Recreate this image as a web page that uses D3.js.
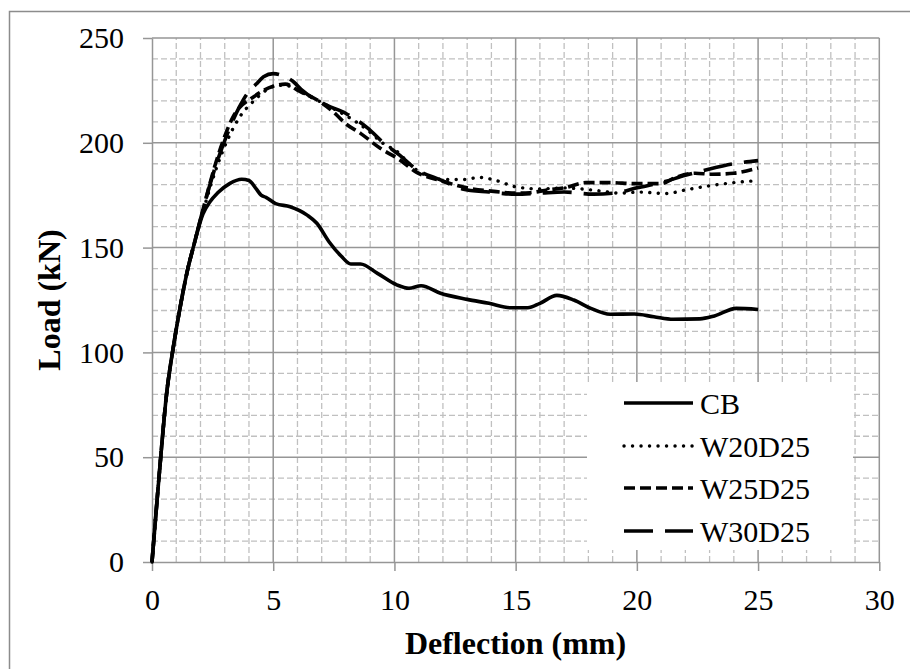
<!DOCTYPE html>
<html>
<head>
<meta charset="utf-8">
<script src="https://cdn.jsdelivr.net/npm/d3@7"></script>
<style>
  html, body { margin: 0; padding: 0; background: #fff; }
  svg { display: block; }
  text { font-family: "Liberation Serif", "Times New Roman", serif; fill: #000; }
</style>
</head>
<body>
<svg id="chart" width="910" height="669"></svg>
<script>
// Load–deflection curves of the control beam (CB) and three strengthened beams
const seriesNames = ["CB", "W20D25", "W25D25", "W30D25"];

const cbDefl = [0, 0.3, 0.6, 0.9, 1.2, 1.5, 1.7, 2.1, 2.4, 2.7, 3.2, 3.7, 4.0, 4.3, 4.5, 4.7, 5.1, 5.7, 6.4, 6.8, 7.3, 7.8, 8.2, 8.6, 9.3, 10.1, 10.6, 11.1, 11.9, 13.0, 13.9, 14.8, 15.5, 16.0, 16.7, 17.4, 18.1, 18.9, 19.9, 20.7, 21.5, 22.6, 23.2, 24.1, 25.0];
const cbLoad = [0, 42, 80, 104, 124, 141, 150, 166, 172, 176, 180.5, 182.6, 182, 178, 175, 174, 171, 169.5, 165.5, 161.6, 152.8, 146, 142.2, 142.2, 137.7, 132.2, 130.6, 131.8, 128.2, 125.3, 123.4, 121.3, 121.3, 123.4, 127.2, 125, 121, 118.2, 118.3, 117, 115.8, 116, 117.4, 121, 120.5];

const w20Defl = [0, 0.3, 0.6, 0.9, 1.2, 1.5, 1.7, 2.1, 2.6, 3.1, 3.6, 4.2, 4.7, 5.2, 5.7, 6.2, 7.2, 8.0, 8.9, 9.5, 10.2, 10.6, 11.2, 12.0, 12.9, 13.5, 14.2, 15.0, 16.0, 17.0, 17.7, 18.5, 19.3, 20.1, 21.2, 22.0, 23.0, 24.0, 25.0];
const w20Load = [0, 42, 80, 104, 124, 141, 150, 167, 186, 201, 212, 220, 225, 227.5, 227, 224, 218, 213, 206, 200, 195, 190, 185, 182.5, 182.5, 183.5, 182, 179, 178, 178.5, 178, 177, 176, 176.5, 175.8, 177.5, 179.5, 181, 182];

const w25Defl = [0, 0.3, 0.6, 0.9, 1.2, 1.5, 1.7, 2.1, 2.7, 3.35, 4.2, 5.0, 5.5, 6.1, 6.8, 7.5, 8.0, 8.6, 9.4, 10.2, 10.9, 11.9, 13.0, 14.2, 15.0, 15.6, 16.3, 17.0, 17.9, 18.9, 19.9, 21.0, 21.6, 22.4, 23.1, 24.0, 25.0];
const w25Load = [0, 42, 80, 104, 124, 141, 150, 168, 193, 212.5, 222, 227, 228, 224.5, 220.5, 214.5, 209, 204.5, 197.5, 192, 186, 182, 178.5, 176.7, 176, 176.2, 177.5, 178.5, 181, 181, 180.5, 180.5, 183.5, 185.5, 185, 185.5, 188];

const w30Defl = [0, 0.3, 0.6, 0.9, 1.2, 1.5, 1.7, 2.1, 2.6, 3.1, 3.6, 3.9, 4.3, 4.6, 5.0, 5.4, 5.8, 6.2, 7.2, 8.0, 8.9, 9.5, 10.2, 10.9, 11.9, 12.8, 13.9, 15.0, 16.0, 17.0, 18.2, 19.2, 20.0, 21.0, 22.0, 23.0, 24.0, 25.0];
const w30Load = [0, 42, 80, 104, 124, 141, 150, 168, 188, 204, 217, 223, 228, 231.5, 233, 232, 229.5, 225, 218, 214, 207, 200.5, 194.2, 187.4, 182.3, 178, 176.5, 175.5, 176, 176.5, 175.5, 176.2, 178.5, 181, 184.5, 187.5, 190, 191.5];

const xTicks = [0, 5, 10, 15, 20, 25, 30];
const yTicks = [0, 50, 100, 150, 200, 250];
const xTitle = "Deflection (mm)";
const yTitle = "Load (kN)";

const series = [
  { name: seriesNames[0], x: cbDefl,  y: cbLoad,  dash: null,        width: 3.6, cap: "butt" },
  { name: seriesNames[1], x: w20Defl, y: w20Load, dash: "0.1,8.4",   width: 3.4, cap: "round" },
  { name: seriesNames[2], x: w25Defl, y: w25Load, dash: "11,5",      width: 3.6, cap: "butt" },
  { name: seriesNames[3], x: w30Defl, y: w30Load, dash: "29,12",     width: 3.6, cap: "butt" }
];

const svg = d3.select("#chart");
const W = 910, H = 669;

// outer chart frame
svg.append("rect")
  .attr("x", 9.5).attr("y", 11.5)
  .attr("width", W).attr("height", H)
  .attr("fill", "none").attr("stroke", "#8c8c8c").attr("stroke-width", 1.5);

const x = d3.scaleLinear().domain([0, 30]).range([152, 879.3]);
const y = d3.scaleLinear().domain([0, 250]).range([562, 38]);

const grid = svg.append("g");
const minorX = d3.range(1, 30).filter(v => v % 5 !== 0);
const minorY = d3.range(10, 250, 10).filter(v => v % 50 !== 0);

grid.selectAll("line.mx").data(minorX).join("line")
  .attr("x1", d => x(d)).attr("x2", d => x(d))
  .attr("y1", y(0)).attr("y2", y(250))
  .attr("stroke", "#c0c0c0").attr("stroke-width", 1.3).attr("stroke-dasharray", "6,3");
grid.selectAll("line.my").data(minorY).join("line")
  .attr("x1", x(0)).attr("x2", x(30))
  .attr("y1", d => y(d)).attr("y2", d => y(d))
  .attr("stroke", "#c0c0c0").attr("stroke-width", 1.3).attr("stroke-dasharray", "6,3");
grid.selectAll("line.Mx").data(xTicks.slice(1)).join("line")
  .attr("x1", d => x(d)).attr("x2", d => x(d))
  .attr("y1", y(0)).attr("y2", y(250))
  .attr("stroke", "#969696").attr("stroke-width", 1.5);
grid.selectAll("line.My").data(yTicks.slice(1)).join("line")
  .attr("x1", x(0)).attr("x2", x(30))
  .attr("y1", d => y(d)).attr("y2", d => y(d))
  .attr("stroke", "#969696").attr("stroke-width", 1.5);

// axes
const xAxis = d3.axisBottom(x).tickValues(xTicks).tickSize(9).tickPadding(18).tickSizeOuter(0);
const yAxis = d3.axisLeft(y).tickValues(yTicks).tickSize(9).tickPadding(19).tickSizeOuter(0);

const gx = svg.append("g").attr("transform", `translate(0,${y(0)})`).call(xAxis);
const gy = svg.append("g").attr("transform", `translate(${x(0)},0)`).call(yAxis);
[gx, gy].forEach(g => {
  g.select(".domain").attr("stroke", "#969696").attr("stroke-width", 1.5);
  g.selectAll(".tick line").attr("stroke", "#969696").attr("stroke-width", 1.5);
  g.selectAll(".tick text").style("font-family", "'Liberation Serif', serif").style("font-size", "30px").attr("fill", "#000");
});

// curves
const line = d3.line().x(d => x(d[0])).y(d => y(d[1])).curve(d3.curveMonotoneX);
const curves = svg.append("g");
series.forEach(s => {
  const pts = s.x.map((v, i) => [v, s.y[i]]);
  curves.append("path")
    .attr("d", line(pts))
    .attr("fill", "none")
    .attr("stroke", "#000")
    .attr("stroke-width", s.width)
    .attr("stroke-linecap", s.cap)
    .attr("stroke-linejoin", "round")
    .attr("stroke-dasharray", s.dash);
});

// legend
const lg = svg.append("g");
lg.append("rect").attr("x", 587).attr("y", 382).attr("width", 266).attr("height", 168).attr("fill", "#fff");
const legY = [403, 446, 488, 531];
series.forEach((s, i) => {
  lg.append("line")
    .attr("x1", 624).attr("x2", 693)
    .attr("y1", legY[i]).attr("y2", legY[i])
    .attr("stroke", "#000").attr("stroke-width", s.width)
    .attr("stroke-linecap", s.cap)
    .attr("stroke-dasharray", s.dash);
  lg.append("text")
    .attr("x", 700).attr("y", legY[i]).attr("dy", "0.35em")
    .style("font-size", "30px")
    .text(s.name);
});

// axis titles
svg.append("text")
  .attr("x", 515.5).attr("y", 654)
  .attr("text-anchor", "middle")
  .style("font-size", "32px").style("font-weight", "bold")
  .text(xTitle);
svg.append("text")
  .attr("transform", "translate(60,300) rotate(-90)")
  .attr("text-anchor", "middle")
  .style("font-size", "32px").style("font-weight", "bold")
  .text(yTitle);
</script>
</body>
</html>
